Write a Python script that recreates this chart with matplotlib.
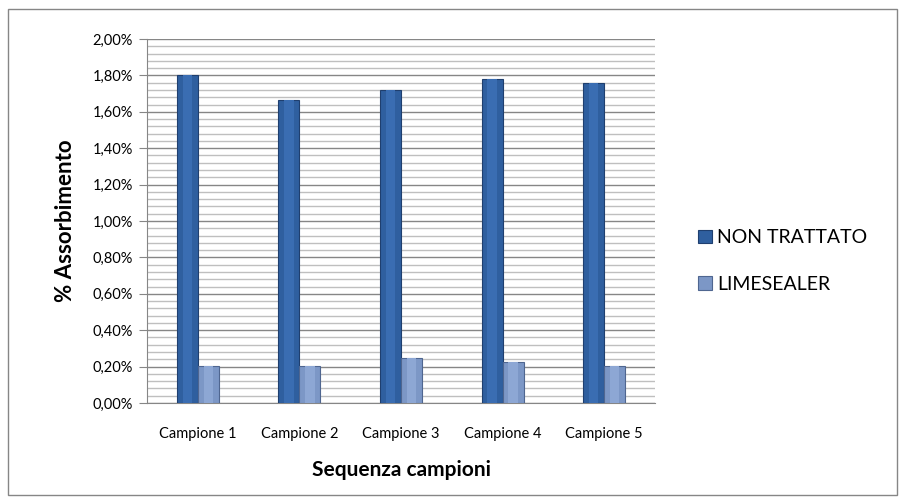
import matplotlib
matplotlib.use("Agg")
import matplotlib.pyplot as plt
import numpy as np
from matplotlib.ticker import MultipleLocator, FuncFormatter
from matplotlib.patches import Rectangle

categories = ["Campione 1", "Campione 2", "Campione 3", "Campione 4", "Campione 5"]
non_trattato = [1.80, 1.665, 1.72, 1.78, 1.757]
limesealer = [0.205, 0.205, 0.245, 0.225, 0.205]
series_names = ["NON TRATTATO", "LIMESEALER"]

plt.rcParams['font.family'] = ['Lato', 'DejaVu Sans']

fig = plt.figure(figsize=(9.05, 5.04), dpi=100)
fig.patches.append(Rectangle((8/905, 9/504), 889/905, 486/504, transform=fig.transFigure,
                             fill=False, edgecolor="#868686", linewidth=1.0))

ax = fig.add_axes([147/905, 1 - 403/504, (655-147)/905, (403-39)/504])
x = np.arange(len(categories))
w = 0.207
c1 = "#2F5F9F"
c2 = "#7C97C6"
b1 = ax.bar(x - w/2, non_trattato, w, color=c1, edgecolor="#1F3F6F", linewidth=0.8,
            label=series_names[0], zorder=3)
b2 = ax.bar(x + w/2, limesealer, w, color=c2, edgecolor="#4F6690", linewidth=0.8,
            label=series_names[1], zorder=3)
# highlight stripes to mimic bevel
ax.bar(x - w/2, non_trattato, w*0.45, color="#3A6DB2", linewidth=0, zorder=3.5)
ax.bar(x + w/2, limesealer, w*0.45, color="#8DA7D4", linewidth=0, zorder=3.5)

ax.set_xlim(-0.5, len(categories) - 0.5)
ax.set_ylim(0, 2.0)
ax.yaxis.set_major_locator(MultipleLocator(0.2))
ax.yaxis.set_minor_locator(MultipleLocator(0.04))
ax.yaxis.set_major_formatter(FuncFormatter(lambda v, p: f"{v:.2f}%".replace(".", ",")))
ax.grid(which="major", axis="y", color="#868686", linewidth=1.0, zorder=1)
ax.grid(which="minor", axis="y", color="#BFBFBF", linewidth=1.0, zorder=1)
ax.tick_params(axis="y", which="minor", length=0)
ax.tick_params(axis="y", which="major", length=6, color="#868686", labelsize=10.5, pad=4)
ax.set_xticks(x)
ax.set_xticklabels(categories)
ax.tick_params(axis="x", length=0, labelsize=10.5, pad=17)
for s in ["top", "right"]:
    ax.spines[s].set_visible(False)
for s in ["left", "bottom"]:
    ax.spines[s].set_color("#868686")

ax.set_ylabel("% Assorbimento", fontsize=16, fontweight="bold", labelpad=12)
ax.set_xlabel("Sequenza campioni", fontsize=15, fontweight="bold", labelpad=14)

ax.legend(handles=[b1, b2], loc="center left", bbox_to_anchor=(1.05, 0.39), frameon=False,
          fontsize=14, handlelength=0.7, handleheight=0.7, labelspacing=1.5, handletextpad=0.3)

fig.savefig("out.png", dpi=100)
